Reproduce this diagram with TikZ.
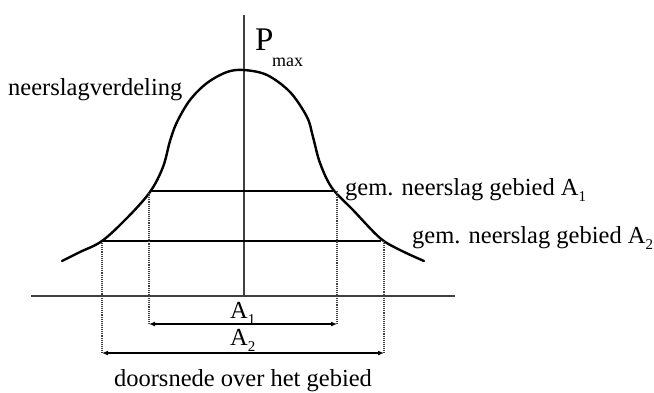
\documentclass[tikz,border=0pt]{standalone}
\usepackage{fontspec}
\setmainfont{Liberation Serif}
\usetikzlibrary{arrows.meta}
\newcommand{\subn}[1]{\raisebox{-6pt}{\fontsize{15}{15}\selectfont #1}}
\begin{document}
\begin{tikzpicture}[x=1pt,y=-1pt,
  lbl/.style={font=\fontsize{24.5}{28}\selectfont, inner sep=0pt, anchor=base west},
  curve/.style={line width=2.4pt, line cap=round},
  axis/.style={line width=1.6pt, draw=black!75},
  level/.style={line width=1.5pt},
  guide/.style={line width=1.1pt, densely dotted, draw=black!75},
  dim/.style={line width=1.5pt, {Latex[length=6pt,width=5pt]}-{Latex[length=6pt,width=5pt]}}]
\useasboundingbox (0,0) rectangle (654,392);
% axes
\coordinate (axtop) at (244,15);
\coordinate (axbot) at (244,296);
\coordinate (bl) at (31,296);
\coordinate (br) at (455,296);
\draw[axis] (axtop) -- (axbot);
\draw[axis] (bl) -- (br);
% distribution curve
\draw[curve] plot[smooth, tension=0.55] coordinates {
  (62,261) (80,252) (102,241) (127,218) (150,192) (163,167) (170,141) (177,122)
  (190,100) (207,83) (227,72) (244,70) (267,75) (290,92) (307,117) (313,137)
  (320,163) (332,188) (353,210) (380,238) (400,250) (424,261)};
% levels
\coordinate (l1) at (152,191); \coordinate (r1) at (333,191);
\coordinate (l2) at (103,241); \coordinate (r2) at (381,241);
\draw[level] (l1) -- (r1);
\draw[level] (l2) -- (r2);
% guides
\coordinate (g1l) at (149,193); \coordinate (g1r) at (337,191);
\coordinate (g2l) at (102,243); \coordinate (g2r) at (384,241);
\coordinate (d1l) at (149,324); \coordinate (d1r) at (337,324);
\coordinate (d2l) at (102,353); \coordinate (d2r) at (384,353);
\draw[guide] (g1l) -- (d1l);
\draw[guide] (g1r) -- (d1r);
\draw[guide] (g2l) -- (d2l);
\draw[guide] (g2r) -- (d2r);
\draw[dim] (d1l) -- (d1r);
\draw[dim] (d2l) -- (d2r);
% labels
\node[lbl] (pmax) at (255,50) {\fontsize{33}{36}\selectfont P};
\node[lbl] (pmaxs) at (272,66) {\fontsize{18}{20}\selectfont max};
\node[lbl] (verd) at (8,95) {neerslagverdeling};
\node[lbl] (gem1) at (345,195) {gem. neerslag gebied A\subn{1}};
\node[lbl] (gem2) at (412,243) {gem. neerslag gebied A\subn{2}};
\node[lbl] (a1) at (230,318) {A\subn{1}};
\node[lbl] (a2) at (230,345) {A\subn{2}};
\node[lbl, anchor=base] (door) at (243,386) {doorsnede over het gebied};
\end{tikzpicture}
\end{document}
